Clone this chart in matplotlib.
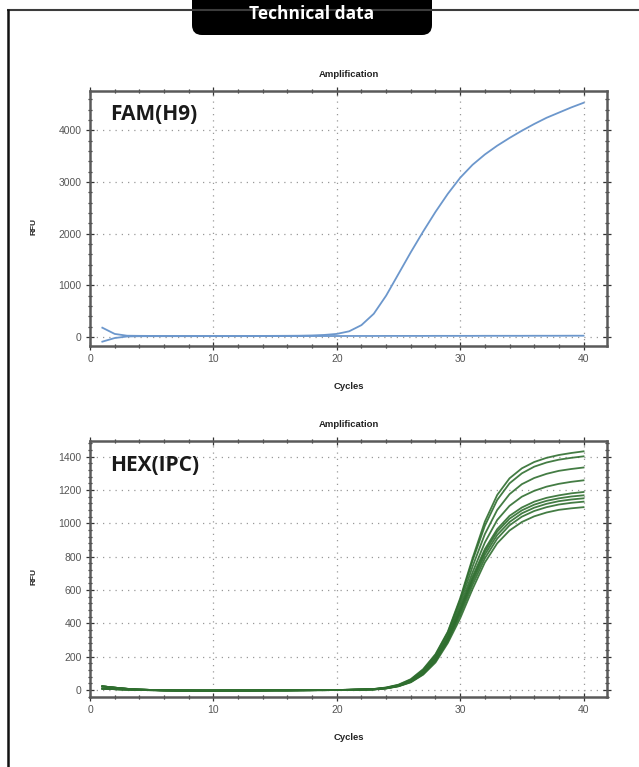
import matplotlib
matplotlib.use("Agg")
import matplotlib.pyplot as plt
from matplotlib.patches import FancyBboxPatch
from matplotlib.ticker import MultipleLocator

# 数据：循环数与荧光值 (RFU)
cycles = list(range(1, 41))

fam_amp = [180, 60, 25, 22, 21, 20, 20, 20, 20, 20, 20, 20, 21, 21, 22, 23, 25, 30, 40, 60,
           110, 230, 450, 800, 1220, 1640, 2040, 2420, 2770, 3080, 3330, 3530, 3700, 3850,
           3990, 4120, 4240, 4340, 4440, 4530]
fam_flat = [-90, -20, 10, 15, 16, 16, 16, 16, 17, 17, 17, 17, 17, 18, 18, 18, 18, 19, 19, 19,
            20, 20, 20, 21, 21, 21, 21, 22, 22, 22, 22, 23, 23, 23, 23, 24, 24, 24, 25, 25]

# HEX 基线 (循环 1-22)
hex_base_a = [22, 14, 7, 3, 0, -2, -3, -3, -3, -3, -3, -3, -3, -2, -2, -2, -1, -1, 0, 0, 1, 3]
hex_base_b = [8, 5, 2, 0, -1, -2, -3, -3, -4, -4, -3, -3, -3, -3, -2, -2, -2, -1, -1, 0, 1, 2]

# HEX 扩增段 (循环 23-40)
hex_rise = [
    [6, 15, 32, 65, 125, 215, 350, 550, 790, 1010, 1170, 1270, 1330, 1368, 1393, 1410, 1422, 1432],
    [6, 14, 30, 62, 120, 210, 345, 540, 775, 985, 1140, 1240, 1300, 1340, 1365, 1382, 1393, 1402],
    [5, 13, 28, 58, 112, 200, 330, 520, 740, 935, 1080, 1175, 1235, 1272, 1297, 1315, 1326, 1335],
    [5, 12, 27, 55, 108, 192, 320, 500, 705, 885, 1020, 1105, 1160, 1195, 1220, 1237, 1249, 1258],
    [4, 11, 25, 52, 102, 185, 310, 485, 680, 845, 965, 1045, 1095, 1130, 1153, 1168, 1180, 1188],
    [4, 11, 25, 51, 100, 182, 305, 475, 665, 830, 950, 1028, 1078, 1112, 1135, 1150, 1161, 1168],
    [4, 10, 24, 50, 98, 178, 300, 465, 650, 812, 930, 1008, 1060, 1094, 1117, 1133, 1143, 1150],
    [3, 10, 23, 48, 95, 172, 292, 450, 630, 790, 908, 988, 1040, 1074, 1097, 1113, 1123, 1130],
    [3, 9, 22, 46, 92, 165, 282, 430, 605, 765, 880, 957, 1008, 1042, 1065, 1081, 1090, 1097],
]

FAM_COLOR = '#6c97cc'
HEX_COLOR = '#2f6e2f'
LABEL_FONT = ['Liberation Sans', 'DejaVu Sans']

W, H = 639, 767
fig = plt.figure(figsize=(W / 100, H / 100), dpi=100)

# 背景框 (像素坐标)
bg = fig.add_axes([0, 0, 1, 1])
bg.set_xlim(0, W)
bg.set_ylim(H, 0)
bg.axis('off')
bg.plot([7, W], [10, 10], color='#3c3c3c', lw=1.5, solid_capstyle='butt')
bg.plot([7.5, 7.5], [9, H], color='#111111', lw=1.8, solid_capstyle='butt')
tab = FancyBboxPatch((192, -30), 240, 65, boxstyle="round,pad=0,rounding_size=10",
                     facecolor='black', edgecolor='none')
bg.add_patch(tab)
bg.text(312, 19, 'Technical data', color='white', fontsize=12.5, fontweight='bold',
        family=['Open Sans', 'DejaVu Sans'], ha='center', va='baseline')


def style_axes(ax, ylim, ymajor, yminor, label):
    ax.set_xlim(0, 41.9)
    ax.set_ylim(*ylim)
    ax.xaxis.set_major_locator(MultipleLocator(10))
    ax.xaxis.set_minor_locator(MultipleLocator(2))
    ax.yaxis.set_major_locator(MultipleLocator(ymajor))
    ax.yaxis.set_minor_locator(MultipleLocator(yminor))
    ax.tick_params(which='both', direction='inout', top=True, right=True,
                   colors='#333333', labelcolor='#555555', labelsize=7.5, width=0.9)
    ax.tick_params(which='major', length=6, pad=3)
    ax.tick_params(which='minor', length=3.5)
    for lab in ax.get_xticklabels() + ax.get_yticklabels():
        lab.set_family(LABEL_FONT)
    ax.grid(True, which='major', color='#999999', linestyle=(0, (1, 4)), lw=0.9)
    for sp in ax.spines.values():
        sp.set_linewidth(1.8)
        sp.set_color('#5a5a5a')
    ax.text(0.5, 1.065, 'Amplification', transform=ax.transAxes, ha='center', va='center',
            fontsize=6.8, fontweight='bold', family=LABEL_FONT, color='#222222')
    ax.text(0.5, -0.16, 'Cycles', transform=ax.transAxes, ha='center', va='center',
            fontsize=6.8, fontweight='bold', family=LABEL_FONT, color='#222222')
    ax.text(-0.108, 0.47, 'RFU', transform=ax.transAxes, ha='center', va='center',
            rotation=90, fontsize=6, fontweight='bold', family=LABEL_FONT, color='#222222')
    ax.text(0.039, 0.906, label, transform=ax.transAxes, ha='left', va='center',
            fontsize=15, fontweight='bold', family=['Open Sans', 'DejaVu Sans'], color='#1a1a1a')


# 上图：FAM
ax1 = fig.add_axes([90 / W, 1 - 346 / H, 517 / W, 255 / H])
ax1.plot(cycles, fam_flat, color=FAM_COLOR, lw=1.3)
ax1.plot(cycles, fam_amp, color=FAM_COLOR, lw=1.3)
style_axes(ax1, (-174, 4758), 1000, 200, 'FAM(H9)')

# 下图：HEX
ax2 = fig.add_axes([90 / W, 1 - 697 / H, 517 / W, 256 / H])
for i, rise in enumerate(hex_rise):
    base = hex_base_a if i % 2 == 0 else hex_base_b
    ax2.plot(cycles, base + rise, color=HEX_COLOR, lw=1.3, alpha=0.9)
style_axes(ax2, (-42, 1494), 200, 40, 'HEX(IPC)')

fig.savefig('out.png', dpi=100)
